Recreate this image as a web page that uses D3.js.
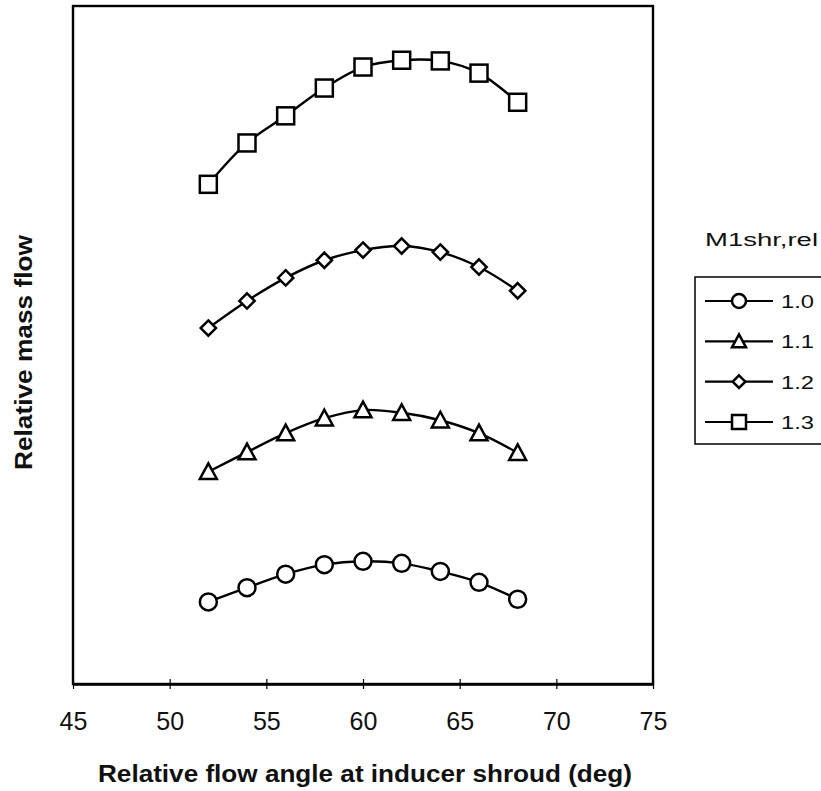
<!DOCTYPE html>
<html lang="en">
<head>
<meta charset="UTF-8">
<title>Relative mass flow</title>
<script src="https://cdn.jsdelivr.net/npm/d3@7/dist/d3.min.js"></script>
<style>
  body { margin: 0; background: #fff; }
  svg { font-family: "Liberation Sans", Arial, sans-serif; }
</style>
</head>
<body>
<script>
// flow angle (deg)
const angles = [52, 54, 56, 58, 60, 62, 64, 66, 68];
// relative mass flow, arbitrary units (no y scale in the source)
const m10 = [12.1, 14.2, 16.2, 17.6, 18.1, 17.8, 16.6, 15.0, 12.5];
const m11 = [31.3, 34.2, 37.0, 39.2, 40.4, 40.0, 38.9, 37.0, 34.1];
const m12 = [52.5, 56.5, 59.9, 62.5, 64.0, 64.6, 63.7, 61.5, 58.0];
const m13 = [73.7, 79.8, 83.8, 87.9, 91.0, 92.0, 91.9, 90.1, 85.8];
const seriesNames = ["1.0", "1.1", "1.2", "1.3"];
const xTicks = [45, 50, 55, 60, 65, 70, 75];

const series = [
  { name: seriesNames[0], vals: m10, shape: "circle" },
  { name: seriesNames[1], vals: m11, shape: "triangle" },
  { name: seriesNames[2], vals: m12, shape: "diamond" },
  { name: seriesNames[3], vals: m13, shape: "square" }
];

const W = 821, H = 791;
const plot = { left: 73, right: 653, top: 6, bottom: 684 };

const x = d3.scaleLinear().domain([45, 75]).range([plot.left, plot.right]);
const y = d3.scaleLinear().domain([0, 100]).range([plot.bottom, plot.top]);

const svg = d3.select("body").append("svg")
    .attr("width", W)
    .attr("height", H);

// frame
svg.append("rect")
    .attr("x", plot.left).attr("y", plot.top)
    .attr("width", plot.right - plot.left)
    .attr("height", plot.bottom - plot.top)
    .attr("fill", "none")
    .attr("stroke", "#000")
    .attr("stroke-width", 2.4);

// x axis
const xAxis = svg.append("g")
    .attr("transform", `translate(0,${plot.bottom})`)
    .call(d3.axisBottom(x).tickValues(xTicks).tickSize(5).tickSizeOuter(0).tickPadding(23));
xAxis.select(".domain").attr("stroke-width", 2.4);
xAxis.selectAll(".tick line").attr("y1", -5).attr("stroke-width", 1.2);
xAxis.selectAll(".tick text")
    .attr("font-size", 25)
    .attr("font-family", "Liberation Sans, Arial, sans-serif")
    .attr("fill", "#111");

svg.append("text")
    .attr("x", 98)
    .attr("y", 782)
    .attr("font-size", 23)
    .attr("font-weight", "bold")
    .attr("fill", "#111")
    .attr("textLength", 534)
    .attr("lengthAdjust", "spacingAndGlyphs")
    .text("Relative flow angle at inducer shroud (deg)");

svg.append("text")
    .attr("transform", "translate(32,470) rotate(-90)")
    .attr("font-size", 23)
    .attr("font-weight", "bold")
    .attr("fill", "#111")
    .attr("textLength", 235)
    .attr("lengthAdjust", "spacingAndGlyphs")
    .text("Relative mass flow");

// marker drawing
function marker(g, shape, s) {
  if (shape === "circle") {
    g.append("circle").attr("r", s * 0.5);
  } else if (shape === "square") {
    g.append("rect").attr("x", -s / 2).attr("y", -s / 2).attr("width", s).attr("height", s);
  } else if (shape === "diamond") {
    const h = s * 0.45;
    g.append("path").attr("d", `M0,${-h}L${h},0L0,${h}L${-h},0Z`);
  } else if (shape === "triangle") {
    const h = s * 0.5;
    g.append("path").attr("d", `M0,${-h}L${h},${h * 0.85}L${-h},${h * 0.85}Z`);
  }
  g.selectAll("*").attr("fill", "#fff").attr("stroke", "#000").attr("stroke-width", 2.5);
}

const line = d3.line()
    .x((d, i) => x(angles[i]))
    .y(d => y(d))
    .curve(d3.curveCatmullRom);

series.forEach(s => {
  svg.append("path")
      .datum(s.vals)
      .attr("d", line)
      .attr("fill", "none")
      .attr("stroke", "#000")
      .attr("stroke-width", 2.4);
  svg.append("g").selectAll("g")
      .data(s.vals)
      .enter().append("g")
      .attr("transform", (d, i) => `translate(${x(angles[i])},${y(d)})`)
      .each(function () { marker(d3.select(this), s.shape, 17); });
});

// legend
svg.append("text")
    .attr("x", 705).attr("y", 246)
    .attr("font-size", 18)
    .attr("fill", "#111")
    .attr("textLength", 113)
    .attr("lengthAdjust", "spacingAndGlyphs")
    .text("M1shr,rel");

svg.append("rect")
    .attr("x", 695).attr("y", 277)
    .attr("width", 140).attr("height", 167)
    .attr("fill", "none")
    .attr("stroke", "#000")
    .attr("stroke-width", 1.5);

const legY = d3.scalePoint().domain(seriesNames).range([301, 422]);
series.forEach(s => {
  const g = svg.append("g").attr("transform", `translate(0,${legY(s.name)})`);
  g.append("line").attr("x1", 705).attr("x2", 773)
      .attr("stroke", "#000").attr("stroke-width", 2.2);
  const m = g.append("g").attr("transform", "translate(739,0)");
  marker(m, s.shape, 14);
  g.append("text")
      .attr("x", 781).attr("y", 7)
      .attr("font-size", 19)
      .attr("fill", "#111")
      .attr("textLength", 33)
      .attr("lengthAdjust", "spacingAndGlyphs")
      .text(s.name);
});
</script>
</body>
</html>
